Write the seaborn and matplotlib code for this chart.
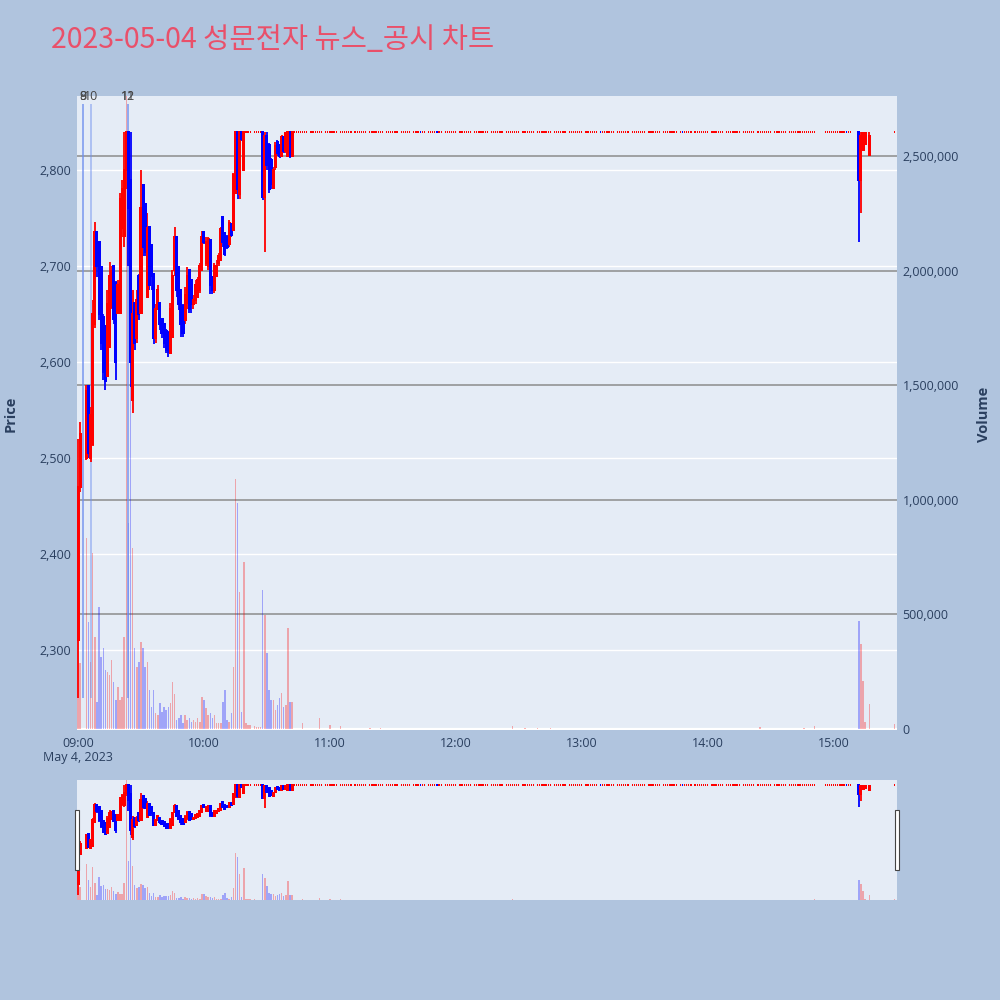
""" news chart """

import matplotlib
matplotlib.use("Agg")
import matplotlib.pyplot as plt
import matplotlib.transforms as mtransforms
from matplotlib.patches import Rectangle
from matplotlib.ticker import FuncFormatter
import numpy as np
import pandas as pd
import seaborn as sns

TITLE = "2023-05-04 성문전자 뉴스_공시 차트"
DATE_LABEL = "May 4, 2023"

# minutes after 09:00 with real price moves
active_min = [0, 1, 4, 5, 6, 7, 8, 9, 10, 11, 12, 13, 14, 15, 16, 17, 18, 19, 20, 21,
              22, 23, 24, 25, 26, 27, 28, 29, 30, 31, 32, 33, 34, 35, 36, 37, 38, 39, 40, 41,
              42, 43, 44, 45, 46, 47, 48, 49, 50, 51, 52, 53, 54, 55, 56, 57, 58, 59, 60, 61,
              62, 63, 64, 65, 66, 67, 68, 69, 70, 71, 72, 73, 74, 75, 76, 77, 78, 79,
              88, 89, 90, 91, 92, 93, 94, 95, 96, 97, 98, 99, 100, 101, 102,
              372, 373, 374, 375, 377]
active_open = [2310, 2470, 2500, 2575, 2500, 2515, 2640, 2735, 2725, 2699, 2647, 2637, 2585, 2616, 2657, 2700, 2682, 2651, 2651, 2740,
               2731, 2800, 2840, 2790, 2560, 2661, 2625, 2690, 2651, 2784, 2765, 2668, 2741, 2722, 2692, 2625, 2655, 2661, 2645, 2640,
               2632, 2630, 2609, 2626, 2696, 2730, 2699, 2675, 2658, 2644, 2661, 2696, 2685, 2660, 2665, 2668, 2675, 2696, 2735, 2703,
               2700, 2727, 2689, 2675, 2690, 2703, 2706, 2751, 2734, 2730, 2723, 2744, 2737, 2776, 2840, 2775, 2840, 2800,
               2840, 2772, 2835, 2826, 2810, 2781, 2803, 2829, 2826, 2815, 2834, 2820, 2815, 2840, 2815,
               2840, 2790, 2821, 2827, 2816]
active_high = [2520, 2537, 2576, 2576, 2553, 2665, 2746, 2736, 2726, 2700, 2650, 2637, 2675, 2704, 2700, 2701, 2684, 2685, 2776, 2790,
               2840, 2840, 2840, 2840, 2675, 2662, 2675, 2692, 2800, 2785, 2766, 2755, 2742, 2723, 2693, 2660, 2680, 2662, 2646, 2641,
               2634, 2632, 2661, 2696, 2741, 2731, 2700, 2676, 2660, 2678, 2699, 2697, 2686, 2670, 2685, 2689, 2703, 2736, 2736, 2730,
               2730, 2728, 2690, 2703, 2706, 2713, 2741, 2752, 2735, 2732, 2748, 2745, 2797, 2840, 2840, 2840, 2840, 2840,
               2840, 2840, 2840, 2828, 2812, 2803, 2829, 2831, 2827, 2836, 2835, 2840, 2840, 2840, 2840,
               2840, 2840, 2840, 2840, 2840]
active_low = [2250, 2465, 2498, 2500, 2496, 2512, 2635, 2689, 2644, 2612, 2581, 2571, 2585, 2616, 2655, 2640, 2581, 2651, 2651, 2730,
              2720, 2780, 2700, 2574, 2547, 2612, 2620, 2644, 2651, 2710, 2710, 2668, 2675, 2675, 2619, 2620, 2655, 2633, 2625, 2615,
              2609, 2605, 2609, 2626, 2690, 2668, 2654, 2626, 2626, 2640, 2655, 2651, 2651, 2655, 2660, 2668, 2672, 2696, 2723, 2700,
              2696, 2671, 2671, 2672, 2688, 2700, 2706, 2720, 2710, 2718, 2720, 2730, 2737, 2776, 2770, 2770, 2830, 2800,
              2769, 2715, 2800, 2776, 2780, 2780, 2800, 2815, 2812, 2814, 2818, 2818, 2814, 2812, 2814,
              2725, 2755, 2821, 2827, 2816]
active_close = [2470, 2525, 2570, 2505, 2545, 2650, 2735, 2700, 2650, 2620, 2590, 2580, 2660, 2690, 2695, 2645, 2600, 2680, 2770, 2780,
                2800, 2840, 2760, 2600, 2650, 2620, 2665, 2650, 2760, 2720, 2715, 2740, 2680, 2690, 2625, 2655, 2675, 2640, 2630, 2620,
                2612, 2610, 2655, 2690, 2730, 2675, 2660, 2640, 2630, 2670, 2690, 2655, 2660, 2665, 2680, 2685, 2700, 2730, 2725, 2725,
                2728, 2680, 2675, 2700, 2700, 2710, 2738, 2725, 2712, 2720, 2745, 2732, 2795, 2840, 2780, 2840, 2832, 2840,
                2772, 2835, 2805, 2780, 2785, 2800, 2825, 2818, 2814, 2834, 2820, 2838, 2840, 2815, 2840,
                2790, 2835, 2838, 2838, 2835]
active_volume = [620000, 290000, 833000, 468000, 294000, 767000, 403000, 120000, 534000, 316000,
                 352000, 258000, 250000, 236000, 301000, 207000, 127000, 185000, 127000, 140000,
                 403000, 3200000, 900000, 1500000, 790000, 352000, 272000, 294000, 380000, 352000,
                 272000, 294000, 170000, 98000, 170000, 68000, 61000, 112000, 76000, 98000,
                 85000, 98000, 112000, 207000, 153000, 39000, 50000, 60000, 25000, 60000,
                 40000, 50000, 30000, 40000, 32000, 49000, 32000, 141000, 127000, 90000,
                 61000, 68000, 46000, 61000, 25000, 27000, 27000, 119000, 170000, 40000,
                 32000, 68000, 272000, 1090000, 985000, 600000, 75000, 730000,
                 607000, 498000, 330000, 170000, 127000, 127000, 83000, 105000, 134000, 156000,
                 98000, 105000, 440000, 116000, 116000,
                 470000, 370000, 210000, 30000, 110000]

# trades at the upper limit price (one flat tick per minute)
limit_price = 2840
limit_segments = [(80, 87), (103, 368), (389, 389)]
limit_gaps = [83, 110, 117, 124, 131, 138, 146, 153, 159, 166, 174, 181, 188, 196, 203, 211,
              218, 226, 233, 241, 248, 256, 263, 271, 278, 286, 293, 301, 308, 316, 323, 331,
              338, 352, 353, 354, 355]
limit_down = [163, 171, 249, 288, 366]
limit_vol_default = 1500
limit_vol_spikes = {80: 27000, 81: 18000, 82: 18000, 84: 15000, 85: 8000, 86: 10000, 87: 8000,
                    107: 25000, 115: 46000, 120: 18000, 125: 14000, 139: 6000, 144: 6000,
                    207: 14000, 213: 6000, 219: 6000, 225: 6000, 325: 8000, 346: 6000,
                    351: 13000, 389: 20000}

# news / disclosure markers
news_min = [2.5, 2.5, 6.0, 23.8, 23.8]
news_labels = ["8", "9", "10", "11", "12"]

hour_min = [0, 60, 120, 180, 240, 300, 360]
hour_labels = ["09:00", "10:00", "11:00", "12:00", "13:00", "14:00", "15:00"]
price_ticks = [2300, 2400, 2500, 2600, 2700, 2800]
volume_ticks = [0, 500000, 1000000, 1500000, 2000000, 2500000]

PALETTE = {"up": "#ff0000", "down": "#0000ff"}
PAPER = "#b0c4de"
PLOT_BG = "#e5ecf6"
FONT_COLOR = "#2a3f5f"


def build_frame():
    """ candles table """
    act = pd.DataFrame({"minute": active_min, "open": active_open, "high": active_high,
                        "low": active_low, "close": active_close, "volume": active_volume})
    act["dir"] = np.where(act["close"] >= act["open"], "up", "down")
    mins = []
    for start, end in limit_segments:
        for m in range(start, end + 1):
            if m not in limit_gaps:
                mins.append(m)
    lim = pd.DataFrame({"minute": mins})
    for col in ["open", "high", "low", "close"]:
        lim[col] = limit_price
    lim["volume"] = [limit_vol_spikes.get(m, limit_vol_default) for m in mins]
    lim["dir"] = ["down" if m in limit_down else "up" for m in mins]
    return pd.concat([act, lim]).sort_values("minute").reset_index(drop=True)


def draw_candles(ax, data, unit):
    """ candles, unit = price per pixel """
    col = data["dir"].map(PALETTE).tolist()
    lo = np.minimum(data["open"], data["close"])
    hi = np.maximum(data["open"], data["close"])
    flat = (data["high"] - data["low"]) == 0
    moving = data[~flat]
    ax.vlines(moving["minute"], moving["low"], moving["high"],
              colors=moving["dir"].map(PALETTE).tolist(), lw=1.3, zorder=3)
    width = np.where(flat, 0.6, 1.45)
    ax.bar(data["minute"], hi - lo + 2 * unit, bottom=lo - unit, width=width,
           color=col, linewidth=0, zorder=3)


def draw_volume(ax, data):
    """ volume bars """
    sns.barplot(data=data, x="minute", y="volume", hue="dir", hue_order=["up", "down"],
                palette=PALETTE, native_scale=True, dodge=False, width=0.7,
                errorbar=None, saturation=1, alpha=0.3, linewidth=0, legend=False, ax=ax)


def clean(ax):
    for sp in ax.spines.values():
        sp.set_visible(False)


sns.set_theme(style="white")
plt.rcParams["font.family"] = ["Open Sans", "Noto Sans CJK KR", "DejaVu Sans"]

df = build_frame()
price_lim = (2216.7, 2877.0)
vol_lim = (-4400, 2764000)
x_lim = (-0.5, 390.2)

fig = plt.figure(figsize=(10, 10), dpi=100, facecolor=PAPER)
ax_p = fig.add_axes([0.077, 0.27, 0.82, 0.634], facecolor=PLOT_BG)
ax_v = ax_p.twinx()
ax_c = ax_p.twinx()

# volume layer
draw_volume(ax_v, df)
for t in volume_ticks[1:]:
    ax_v.axhline(t, color="#8c8c8c", lw=1.1, zorder=0)
ax_v.axhline(0, color="white", lw=1.6, zorder=0)
ax_v.set_ylim(*vol_lim)
ax_v.set_yticks(volume_ticks)
ax_v.yaxis.set_major_formatter(FuncFormatter(lambda v, _: f"{v:,.0f}"))
ax_v.tick_params(axis="y", length=0, pad=4, labelsize=9, labelcolor=FONT_COLOR)
ax_v.set_ylabel("")
ax_v.set_xlabel("")

# candles + news
draw_candles(ax_c, df, 1.04)
ax_c.vlines(news_min, df["low"].min(), df["high"].max() * 1.01,
            colors="#6f8fef", alpha=0.55, lw=1.2, zorder=2)
trans = mtransforms.blended_transform_factory(ax_c.transData, ax_c.transAxes)
for m, lab in zip(news_min, news_labels):
    ax_c.text(m, 1.0, lab, transform=trans, ha="center", va="center",
              fontsize=9, color="#444444")
ax_c.set_ylim(*price_lim)
ax_c.yaxis.set_visible(False)

# price axis
ax_p.set_ylim(*price_lim)
ax_p.set_yticks(price_ticks)
ax_p.yaxis.set_major_formatter(FuncFormatter(lambda v, _: f"{v:,.0f}"))
ax_p.yaxis.grid(True, color="white", lw=1.0)
ax_p.xaxis.grid(False)
ax_p.tick_params(axis="y", length=0, pad=4, labelsize=9, labelcolor=FONT_COLOR)
ax_p.set_xlim(*x_lim)
ax_p.set_xticks(hour_min)
ax_p.set_xticklabels(hour_labels)
ax_p.tick_params(axis="x", length=0, pad=5, labelsize=9, labelcolor=FONT_COLOR)
ax_p.set_xlabel("")
ax_p.text(0, -0.043, DATE_LABEL, transform=mtransforms.blended_transform_factory(
    ax_p.transData, ax_p.transAxes), ha="center", va="center", fontsize=9, color=FONT_COLOR)
for a in (ax_p, ax_v, ax_c):
    clean(a)

# range slider
ax_s = fig.add_axes([0.077, 0.10, 0.82, 0.12], facecolor=PLOT_BG)
draw_volume(ax_s, df)
ax_s.set_ylim(0, vol_lim[1])
ax_sc = ax_s.twinx()
draw_candles(ax_sc, df, 5.4)
ax_sc.set_ylim(2222, 2868)
ax_s.set_xlim(*x_lim)
for a in (ax_s, ax_sc):
    a.set_xticks([])
    a.set_yticks([])
    a.set_xlabel("")
    a.set_ylabel("")
    clean(a)
for hx in (0.0745, 0.8945):
    fig.add_artist(Rectangle((hx, 0.13), 0.004, 0.06, transform=fig.transFigure,
                             facecolor="white", edgecolor="#444444", lw=0.8))

fig.text(0.011, 0.586, "Price", rotation=90, ha="center", va="center",
         fontsize=10.5, fontweight="bold", color=FONT_COLOR)
fig.text(0.984, 0.586, "Volume", rotation=90, ha="center", va="center",
         fontsize=10.5, fontweight="bold", color=FONT_COLOR)
fig.text(0.051, 0.96, TITLE, ha="left", va="center", fontsize=20.5, color="#e9506a",
         family=["Noto Sans CJK KR", "DejaVu Sans"])

fig.savefig("out.png", dpi=100, facecolor=PAPER)
